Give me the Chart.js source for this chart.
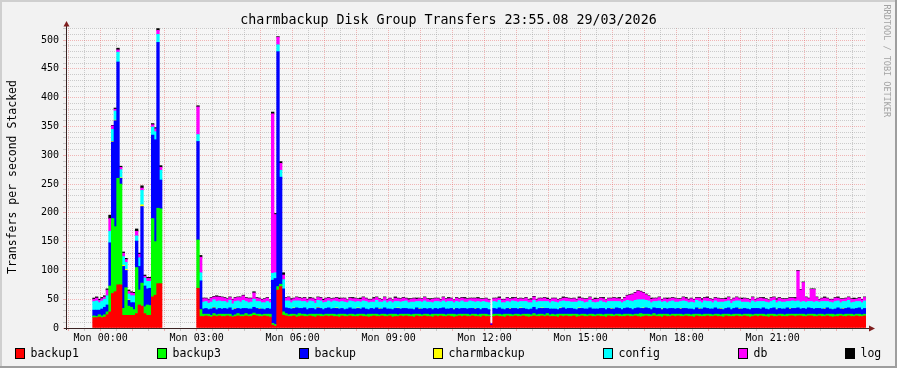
<!DOCTYPE html>
<html>
<head>
<meta charset="utf-8">
<title>charmbackup Disk Group Transfers</title>
<script src="https://cdn.jsdelivr.net/npm/chart.js@4.4.1/dist/chart.umd.min.js"></script>
<style>
  html, body { margin: 0; padding: 0; background: #f2f2f2; }
  #graph { display: block; }
</style>
</head>
<body>
<canvas id="graph" width="897" height="368"></canvas>
<script>
// sample step is 5 minutes, times are minutes from Mon 00:00
const stepMin = 5;
const run1Start = -15;   // Sun 23:45
const run2Start = 180;   // Mon 03:00

const seriesNames = ['backup1', 'backup3', 'backup', 'charmbackup', 'config', 'db', 'log'];

// first burst, Sun 23:45 - Mon 02:00
const backup1A = [18,18,19,18,19,23,28,60,63,75, 75,22,22,22,22,22,25,40,38,25, 22,22,54,57,77,77];
const backup3A = [3,2,4,3,4,5,45,130,113,185, 175,12,48,16,14,10,80,26,40,12, 18,17,136,93,131,130];
const backupA  = [10,11,8,12,13,12,75,133,184,202, 10,73,30,10,8,12,46,41,133,36, 28,30,145,177,288,50];
const charmA   = [0,0,0,0,0,0,0,1,1,0, 1,2,2,1,0,0,0,0,3,0, 0,0,0,0,0,0];
const configA  = [15,16,13,14,14,16,20,21,16,17, 14,15,12,10,12,12,9,15,25,14, 13,12,14,14,14,17];
const dbA      = [4,5,4,4,4,10,22,6,3,4, 4,6,5,5,5,4,8,6,4,3, 5,5,4,5,7,5];
const logA     = [2,2,2,2,2,2,6,1,2,3, 2,2,2,2,2,2,4,2,4,2, 2,2,2,2,3,3];

// second run, Mon 03:00 - 23:55
const backup1B = [
  69,20,20,21,20,19,21,20,21,20, 20,21,20,19,20,21,20,20,21,20, 20,22,21,20,20,21,20,19,5,3,
  66,72,22,21,20,20,21,19,20,21, 20,20,21,20,19,21,20,20,21,20, 21,20,20,19,21,20,20,21,20,20,
  20,21,20,20,19,20,21,20,20,21, 20,20,21,19,20,20,21,20,21,20, 20,19,21,20,20,21,20,20,19,21,
  20,21,20,20,21,20,19,20,21,20, 21,20,20,21,20,20,19,21,20,20, 5,20,21,20,20,19,21,20,20,21,
  20,20,21,20,19,20,21,20,20,21, 20,21,20,20,20,19,21,20,21,20, 20,21,19,20,21,20,20,21,20,20,
  21,20,20,19,21,20,20,21,20,20, 20,21,20,20,21,20,19,20,21,20, 20,21,20,20,19,21,20,20,21,20,
  21,20,20,21,20,20,19,21,20,20, 20,21,20,20,21,20,20,19,21,20, 20,20,21,20,20,21,20,19,20,21,
  20,21,20,20,19,21,20,20,21,20, 20,20,21,21,20,21,21,20,20,21, 21,20,20,21,20,20,21,20,19,20,
  20,21,20,20,21,20,20,21,20,20, 21
];
const backup3B = [
  84,12,4,3,4,3,4,3,3,4, 4,3,4,2,3,4,3,3,4,3, 4,4,3,4,3,3,4,5,3,3,
  6,4,6,4,3,4,3,4,5,3, 4,3,3,4,5,3,4,3,3,4, 3,4,3,5,3,4,3,3,4,3,
  4,3,4,3,5,4,3,4,3,3, 4,3,3,5,4,3,3,4,3,4, 3,5,3,4,3,3,4,3,5,3,
  4,3,4,3,3,4,5,3,3,4, 3,4,3,3,4,3,5,3,4,3, 0,4,3,4,3,5,3,4,3,3,
  4,3,3,4,5,3,4,3,4,3, 3,4,3,4,3,5,3,4,3,4, 4,3,5,3,3,4,3,3,4,3,
  3,4,3,5,3,4,3,3,4,3, 4,3,4,3,3,4,6,4,3,4, 3,4,3,4,5,3,4,3,3,4,
  3,4,3,3,4,3,5,3,4,3, 4,3,4,3,3,4,3,5,3,4, 3,4,3,4,3,3,4,5,3,3,
  4,3,4,3,5,3,4,3,3,4, 3,4,3,3,4,3,3,4,3,3, 3,4,3,3,4,3,3,4,5,3,
  4,3,3,4,3,4,3,3,4,3, 3
];
const backupB = [
  171,50,9,10,8,11,10,9,10,9, 10,9,11,10,10,9,10,11,9,10, 9,10,10,9,10,8,10,9,75,80,
  408,186,40,10,11,9,10,12,9,10, 11,9,10,10,8,11,10,9,10,11, 9,10,11,9,10,8,10,11,9,10,
  10,9,11,10,8,10,9,11,10,9, 11,10,9,8,10,11,9,10,10,9, 10,8,11,9,10,10,9,11,8,10,
  9,10,11,10,9,10,8,11,9,10, 10,9,11,10,9,11,8,10,10,9, 2,10,9,11,10,8,10,9,11,10,
  9,11,10,9,8,10,11,9,10,10, 11,9,10,9,10,8,10,11,9,10, 10,9,8,11,10,9,10,11,9,10,
  9,10,11,8,10,9,10,11,10,9, 10,11,10,9,10,11,9,10,11,10, 9,10,11,10,8,10,9,11,10,9,
  10,9,11,10,9,10,8,11,9,10, 11,10,9,10,11,9,10,8,10,11, 9,10,11,9,10,10,9,8,11,10,
  10,9,11,10,8,10,11,9,10,9, 10,11,9,10,10,11,9,10,10,11, 10,9,11,10,9,10,11,9,8,10,
  11,9,10,10,11,9,10,10,11,9, 10
];
const charmB = [
  0,0,0,0,0,0,1,0,0,0, 0,0,0,0,1,0,0,0,0,0, 0,0,0,1,0,0,0,0,0,0,
  0,0,0,0,0,0,1,0,0,0, 0,0,0,0,0,1,0,0,0,0, 0,0,1,0,0,0,0,0,0,0,
  1,0,0,0,0,0,0,0,1,0, 0,0,0,0,0,1,0,0,0,0, 0,0,0,1,0,0,0,0,0,0,
  0,0,0,0,0,0,1,0,0,0, 0,0,0,0,1,0,0,0,0,0, 0,0,0,0,0,0,0,1,0,0,
  0,1,0,0,0,0,0,0,0,1, 0,0,0,0,0,0,1,0,0,0, 0,0,0,1,0,0,0,0,0,0,
  0,0,0,0,0,1,0,0,0,0, 0,0,0,0,0,0,0,1,0,0, 0,0,0,0,1,0,0,0,0,0,
  0,1,0,0,0,0,0,0,1,0, 0,0,0,0,0,0,1,0,0,0, 0,0,0,1,0,0,0,0,0,0,
  0,0,0,0,0,0,0,1,0,0, 0,0,1,0,0,0,0,0,0,0, 0,0,0,0,0,1,0,0,0,0,
  0,0,1,0,0,0,0,0,0,0, 0
];
const configB = [
  12,14,12,12,11,12,13,14,13,13, 12,11,13,11,12,13,12,14,12,11, 12,14,12,12,11,12,12,11,12,10,
  12,12,16,12,13,11,12,12,13,12, 11,12,13,12,11,12,13,12,11,12, 12,13,11,12,12,13,11,12,13,12,
  11,12,12,13,12,11,12,13,11,12, 12,11,13,12,12,11,12,12,13,11, 12,13,11,12,12,13,12,11,12,12,
  13,11,12,12,13,12,11,12,12,13, 11,12,13,12,11,12,13,12,11,12, 0,12,12,13,11,12,12,11,13,12,
  12,11,12,13,12,11,12,13,12,11, 12,12,11,13,12,12,11,12,13,12, 11,12,13,12,12,11,12,13,12,11,
  12,13,11,12,12,12,13,11,12,12, 12,13,13,14,14,14,15,14,13,13, 12,11,12,13,12,12,11,12,13,12,
  11,12,13,12,11,12,12,13,12,11, 12,12,13,11,12,12,11,13,12,12, 11,12,12,13,12,11,12,12,13,11,
  12,13,11,12,12,12,13,11,12,12, 12,11,12,13,12,12,12,12,12,11, 12,12,12,11,13,12,11,12,12,13,
  12,11,12,12,13,11,12,12,11,12, 13
];
const dbB = [
  48,27,6,5,6,7,5,8,7,7, 6,6,5,7,6,6,8,8,6,7, 6,11,6,5,5,6,6,4,277,101,
  13,12,8,5,6,5,4,6,5,5, 6,5,4,5,6,5,5,4,6,5, 5,4,6,5,5,6,4,5,5,6,
  4,5,6,5,5,4,6,5,5,4, 6,5,5,4,6,5,5,6,4,5, 5,6,4,5,5,6,5,4,6,5,
  5,4,6,5,5,5,4,6,5,5, 6,5,4,5,6,5,5,4,6,5, 1,5,6,4,5,5,6,5,4,6,
  5,5,4,6,5,5,6,4,5,5, 6,4,5,5,6,5,4,5,6,5, 5,6,4,5,5,6,5,5,4,6,
  5,5,6,4,5,5,6,5,5,4, 6,8,10,12,13,15,14,12,10,8, 6,5,5,6,4,5,6,5,5,6,
  5,4,6,5,5,6,5,4,6,5, 5,6,4,5,5,6,5,5,4,6, 5,5,6,4,5,6,5,5,6,4,
  5,6,5,5,4,6,5,5,6,5, 5,4,6,5,5,52,21,33,8,5, 21,22,7,4,5,6,5,4,5,6,
  5,6,4,5,5,6,5,4,6,5, 6
];
const logB = [
  2,3,1,1,1,1,1,2,1,1, 1,1,1,1,1,1,1,1,1,1, 1,2,1,1,1,1,1,1,3,2,
  1,3,4,1,1,2,1,1,1,1, 1,1,2,1,1,1,1,2,1,1, 1,1,1,2,1,1,1,1,2,1,
  1,2,1,1,1,1,2,1,1,1, 1,1,1,1,2,1,1,1,1,2, 1,1,2,1,1,1,1,2,1,1,
  1,1,1,1,2,1,1,1,1,1, 2,1,1,1,1,2,1,1,1,1, 0,1,1,2,1,1,1,1,2,1,
  1,1,1,1,1,2,1,1,1,1, 1,2,1,1,1,1,1,2,1,1, 1,1,1,2,1,1,1,1,1,2,
  1,1,2,1,1,1,1,1,2,1, 1,1,1,1,1,1,1,1,1,1, 2,1,1,1,1,1,2,1,1,1,
  1,1,1,2,1,1,1,1,1,2, 1,2,1,1,1,1,1,1,2,1, 1,1,1,1,2,1,1,1,1,1,
  1,1,2,1,1,1,1,2,1,1, 1,1,1,1,2,1,1,1,1,1, 1,1,1,1,1,2,1,1,1,1,
  2,1,1,1,1,1,2,1,1,1, 1
];

const runA = [backup1A, backup3A, backupA, charmA, configA, dbA, logA];
const runB = [backup1B, backup3B, backupB, charmB, configB, dbB, logB];

const colors = ['#ff0000', '#00ff00', '#0000ff', '#ffff00', '#00ffff', '#ff00ff', '#000000'];
const legendX = [15, 157, 299, 433, 603, 738, 845];
const mono = '"DejaVu Sans Mono", monospace';

// each value sits in the middle of its 5 minute slot, empty slots are left out
function toPoints(values, start) {
  const pts = [];
  values.forEach((v, i) => {
    if (v > 0) pts.push({x: start + stepMin * i + stepMin / 2, y: v});
  });
  return pts;
}

const datasets = seriesNames.map((name, k) => ({
  label: name,
  data: toPoints(runA[k], run1Start).concat(toPoints(runB[k], run2Start)),
  backgroundColor: colors[k],
  borderWidth: 0,
  barPercentage: 1,
  categoryPercentage: 1
}));

const gridMajor = 'rgba(230,90,90,0.42)';
const gridMinor = 'rgba(150,150,150,0.45)';

const rrdLook = {
  id: 'rrdLook',
  beforeDraw(chart) {
    const {ctx, width, height, chartArea: a} = chart;
    ctx.save();
    ctx.fillStyle = '#f2f2f2';
    ctx.fillRect(0, 0, width, height);
    ctx.fillStyle = '#f6f6f6';
    ctx.fillRect(a.left, a.top, a.right - a.left, a.bottom - a.top);
    ctx.fillStyle = '#cfcfcf';
    ctx.fillRect(0, 0, width, 2);
    ctx.fillRect(0, 0, 2, height);
    ctx.fillStyle = '#9e9e9e';
    ctx.fillRect(0, height - 2, width, 2);
    ctx.fillRect(width - 2, 0, 2, height);
    ctx.restore();
  },
  afterDatasetsDraw(chart) {
    const {ctx, chartArea: a} = chart;
    ctx.save();
    ctx.strokeStyle = '#3a2222';
    ctx.lineWidth = 1;
    ctx.beginPath();
    ctx.moveTo(a.left + 0.5, a.bottom + 2);
    ctx.lineTo(a.left + 0.5, a.top - 3);
    ctx.moveTo(a.left - 2, a.bottom + 0.5);
    ctx.lineTo(a.right + 4, a.bottom + 0.5);
    ctx.stroke();
    ctx.fillStyle = '#7f1f1f';
    ctx.beginPath();
    ctx.moveTo(a.left + 0.5, a.top - 7);
    ctx.lineTo(a.left - 2.5, a.top - 1.5);
    ctx.lineTo(a.left + 3.5, a.top - 1.5);
    ctx.closePath();
    ctx.fill();
    ctx.beginPath();
    ctx.moveTo(a.right + 9, a.bottom + 0.5);
    ctx.lineTo(a.right + 3, a.bottom - 2.5);
    ctx.lineTo(a.right + 3, a.bottom + 3.5);
    ctx.closePath();
    ctx.fill();
    ctx.restore();
  },
  afterDraw(chart) {
    const {ctx, width} = chart;
    ctx.save();
    ctx.fillStyle = '#000';
    ctx.textBaseline = 'alphabetic';

    ctx.font = '13.3px ' + mono;
    ctx.textAlign = 'center';
    ctx.fillText('charmbackup Disk Group Transfers 23:55.08 29/03/2026', width / 2, 24);

    ctx.save();
    ctx.font = '11.5px ' + mono;
    ctx.translate(15.5, 177);
    ctx.rotate(-Math.PI / 2);
    ctx.fillText('Transfers per second Stacked', 0, 0);
    ctx.restore();

    ctx.save();
    ctx.font = '8.5px ' + mono;
    ctx.fillStyle = '#a3a3a3';
    ctx.textAlign = 'left';
    ctx.translate(884, 4.5);
    ctx.rotate(Math.PI / 2);
    ctx.fillText('RRDTOOL / TOBI OETIKER', 0, 0);
    ctx.restore();

    ctx.font = '11.5px ' + mono;
    ctx.textAlign = 'left';
    seriesNames.forEach((name, k) => {
      const x = legendX[k];
      ctx.fillStyle = '#000';
      ctx.fillRect(x, 348, 10, 11);
      ctx.fillStyle = colors[k];
      ctx.fillRect(x + 1, 349, 8, 9);
      ctx.fillStyle = '#000';
      ctx.fillText(name, x + 15.5, 357);
    });
    ctx.restore();
  }
};

const hourTicks = [];
for (let t = -60; t <= 1410; t += 30) hourTicks.push({value: t});
const valueTicks = [];
for (let v = 0; v <= 520; v += 10) valueTicks.push({value: v});

new Chart(document.getElementById('graph'), {
  type: 'bar',
  data: {datasets: datasets},
  options: {
    responsive: false,
    animation: false,
    events: [],
    layout: {padding: {top: 28, right: 31, bottom: 0, left: 0}},
    plugins: {legend: {display: false}, tooltip: {enabled: false}},
    scales: {
      x: {
        type: 'linear',
        stacked: true,
        min: run1Start - 50,
        max: 1435,
        offset: false,
        afterBuildTicks: axis => { axis.ticks = hourTicks.map(t => ({value: t.value})); },
        afterFit: axis => { axis.height = 40; },
        grid: {
          offset: false,
          tickLength: 3,
          color: c => (c.tick && c.tick.value % 60 === 0) ? gridMajor : gridMinor
        },
        border: {display: false, dash: [1, 1]},
        ticks: {
          autoSkip: false,
          maxRotation: 0,
          padding: 1,
          color: '#000',
          font: {family: mono, size: 10},
          callback: v => (v >= 0 && v % 180 === 0) ? 'Mon ' + String(v / 60).padStart(2, '0') + ':00' : ''
        }
      },
      y: {
        stacked: true,
        min: 0,
        max: 521,
        afterBuildTicks: axis => { axis.ticks = valueTicks.map(t => ({value: t.value})); },
        afterFit: axis => { axis.width = 66; },
        grid: {
          tickLength: 3,
          color: c => (c.tick && c.tick.value % 50 === 0) ? gridMajor : gridMinor
        },
        border: {display: false, dash: [1, 1]},
        ticks: {
          autoSkip: false,
          padding: 4,
          color: '#000',
          font: {family: mono, size: 10},
          callback: v => (v % 50 === 0) ? String(v) : ''
        }
      }
    }
  },
  plugins: [rrdLook]
});
</script>
</body>
</html>
